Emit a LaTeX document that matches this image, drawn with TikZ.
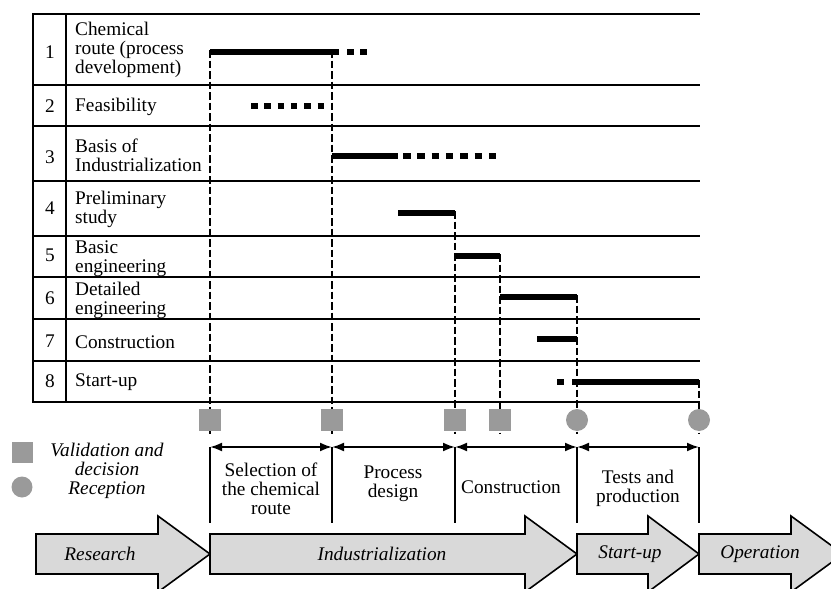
\documentclass[tikz,border=0pt]{standalone}
\usepackage{fontspec}
\setmainfont{Liberation Serif}
\usetikzlibrary{arrows.meta}
\definecolor{mk}{HTML}{9A9A9A}
\definecolor{af}{HTML}{D9D9D9}
\begin{document}
\begin{tikzpicture}[x=1pt,y=-1pt,
  every node/.style={inner sep=0pt, font=\fontsize{19.3}{19}\selectfont},
  tabline/.style={line width=1.9pt},
  gbar/.style={line width=5.8pt},
  dotbar/.style={line width=5.8pt, dash pattern=on 6.5pt off 6.8pt},
  vdash/.style={line width=2.5pt, dash pattern=on 7.5pt off 3pt},
  ms/.style={fill=mk, minimum size=22pt, draw=none},
  msq/.style={ms, rectangle},
  mci/.style={ms, circle},
  brk/.style={line width=2pt, {Latex[length=12pt,width=9pt]}-{Latex[length=12pt,width=9pt]}},
  brtick/.style={line width=2pt},
  big/.style={draw, line width=1.6pt, fill=af, line join=miter},
  lab/.style={anchor=west, align=left},
  numlab/.style={anchor=center},
  itx/.style={font=\fontsize{19.3}{19}\selectfont\itshape}
]
\clip (0,0) rectangle (831,589);
% table
\foreach \y in {14,85,126,181,236,277,319,361,402}
  \draw[tabline] (33,\y) -- (700,\y);
\draw[tabline] (33,13) -- (33,403);
\draw[tabline] (66,13) -- (66,403);
% numbers
\node[numlab] (n1) at (50,52) {1};
\node[numlab] (n2) at (50,106) {2};
\node[numlab] (n3) at (50,157) {3};
\node[numlab] (n4) at (50,208) {4};
\node[numlab] (n5) at (50,255) {5};
\node[numlab] (n6) at (50,298) {6};
\node[numlab] (n7) at (50,341) {7};
\node[numlab] (n8) at (50,381) {8};
% labels
\node[lab] (l1) at (75,50) {Chemical\\route (process\\development)};
\node[lab] (l2) at (75,107) {Feasibility};
\node[lab] (l3) at (75,155) {Basis of\\Industrialization};
\node[lab] (l4) at (75,209) {Preliminary\\study};
\node[lab] (l5) at (75,259) {Basic\\engineering};
\node[lab] (l6) at (75,300) {Detailed\\engineering};
\node[lab] (l7) at (75,342) {Construction};
\node[lab] (l8) at (75,382) {Start-up};
% bars
\draw[gbar] (210,52) -- (339,52);
\draw[dotbar, dash pattern=on 6.5pt off 6.5pt] (347,52) -- (368,52);
\draw[dotbar] (251,106) -- (325,106);
\draw[gbar] (332,156) -- (398,156);
\draw[dotbar, dash pattern=on 7.5pt off 6.8pt] (403,156) -- (497,156);
\draw[gbar] (398,213) -- (455,213);
\draw[gbar] (455,256) -- (500,256);
\draw[gbar] (500,297) -- (577,297);
\draw[gbar] (537,339) -- (577,339);
\draw[gbar] (557,382) -- (564,382);
\draw[gbar] (572,382) -- (699,382);
% dashed milestone lines
\coordinate (s1) at (210,50);
\coordinate (s2) at (332,50);
\coordinate (s3) at (455,211);
\coordinate (s4) at (500,254);
\coordinate (s5) at (577,295);
\coordinate (s6) at (699,380);
\coordinate (e1) at (210,434);
\coordinate (e2) at (332,434);
\coordinate (e3) at (455,434);
\coordinate (e4) at (500,434);
\coordinate (e5) at (577,434);
\coordinate (e6) at (699,434);
\foreach \i in {1,...,6} \draw[vdash] (s\i) -- (e\i);
% milestones
\node[msq] (m1) at (210,420) {};
\node[msq] (m2) at (332,420) {};
\node[msq] (m3) at (455,420) {};
\node[msq] (m4) at (500,420) {};
\node[mci] (m5) at (577,420) {};
\node[mci] (m6) at (699,420) {};
% brackets
\coordinate (t1) at (210,447);
\coordinate (t2) at (332,447);
\coordinate (t3) at (455,447);
\coordinate (t4) at (577,447);
\coordinate (t5) at (699,447);
\coordinate (u1) at (210,523);
\coordinate (u2) at (332,523);
\coordinate (u3) at (455,523);
\coordinate (u4) at (577,523);
\coordinate (u5) at (699,523);
\foreach \i in {1,...,5} \draw[brtick] (t\i) -- (u\i);
\draw[brk] (t1) -- (t2);
\draw[brk] (t2) -- (t3);
\draw[brk] (t3) -- (t4);
\draw[brk] (t4) -- (t5);
\node[align=center] (p1) at (271,489) {Selection of\\the chemical\\route};
\node[align=center] (p2) at (393,484) {Process\\design};
\node[align=center] (p3) at (511,487) {Construction};
\node[align=center] (p4) at (638,488) {Tests and\\production};
% legend
\node[msq, minimum size=21pt] (lg1) at (22.5,452.5) {};
\node[mci, minimum size=21pt] (lg2) at (22,487) {};
\node[itx, align=center] (lgt) at (107,471) {Validation and\\decision\\Reception};
% big arrows
\draw[big] (36,534) -- (158,534) -- (158,516) -- (210,554) -- (158,592) -- (158,574) -- (36,574) -- cycle;
\draw[big] (210,534) -- (525,534) -- (525,516) -- (577,554) -- (525,592) -- (525,574) -- (210,574) -- cycle;
\draw[big] (577,534) -- (648,534) -- (648,516) -- (699,554) -- (648,592) -- (648,574) -- (577,574) -- cycle;
\draw[big] (699,534) -- (791,534) -- (791,516) -- (843,554) -- (791,592) -- (791,574) -- (699,574) -- cycle;
\node[itx] (a1) at (100,554) {Research};
\node[itx] (a2) at (382,554) {Industrialization};
\node[itx] (a3) at (630,554) {Start-up};
\node[itx] (a4) at (760,554) {Operation};
\end{tikzpicture}
\end{document}
